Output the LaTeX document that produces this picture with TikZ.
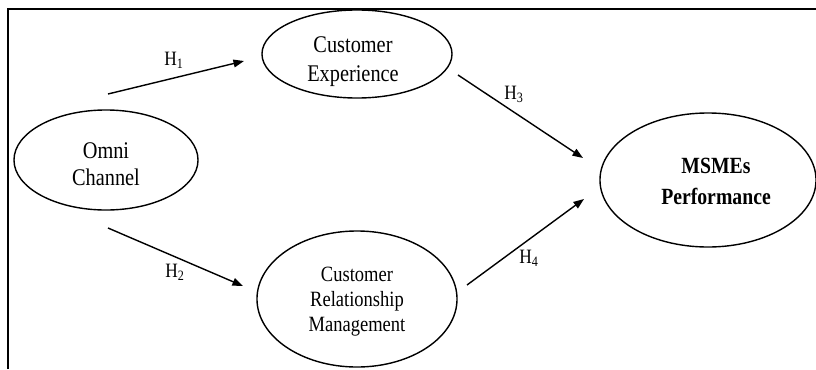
\documentclass[tikz,border=0pt]{standalone}
\usepackage{fontspec}
\setmainfont[FakeStretch=0.85]{Liberation Serif}
\usetikzlibrary{shapes.geometric,arrows.meta}

\begin{document}
\begin{tikzpicture}[x=0.025cm,y=-0.025cm,
    konstrukt/.style={draw,ellipse,line width=1pt,inner sep=0pt},
    beschr/.style={align=center,font=\fontsize{17}{19.5}\selectfont},
    pfeil/.style={-{Triangle[length=7.5pt,width=5.5pt]},line width=1pt},
    hyp/.style={font=\fontsize{14.5}{16}\selectfont}]
    \useasboundingbox (0,0) rectangle (816,369);

    % Rahmen (oben und links)
    \draw[line width=1.3pt] (8,369) -- (8,9) -- (816,9);

    % Ellipsen
    \node[konstrukt,minimum width=4.6cm,minimum height=2.5cm] (omni) at (106,160) {};
    \node[konstrukt,minimum width=4.75cm,minimum height=2.2cm] (ce) at (357,54) {};
    \node[konstrukt,minimum width=5cm,minimum height=3.4cm] (crm) at (357,299) {};
    \node[konstrukt,minimum width=5.4cm,minimum height=3.35cm] (perf) at (708,180) {};

    % Texte in den Ellipsen
    \node[beschr] (omni text) at (106,164) {Omni\\Channel};
    \node[beschr,font=\fontsize{17}{20.5}\selectfont] (ce text) at (353,62) {Customer\\Experience};
    \node[beschr,font=\fontsize{15.5}{17.7}\selectfont] (crm text) at (357,302) {Customer\\Relationship\\Management};
    \node[beschr,font=\bfseries\fontsize{16.5}{22}\selectfont] (perf text) at (716,181) {MSMEs\\Performance};

    % Pfeile (Anfang und Ende frei)
    \coordinate (h1a) at (108,94);
    \coordinate (h1b) at (244,61);
    \coordinate (h2a) at (108,228);
    \coordinate (h2b) at (243,286);
    \coordinate (h3a) at (458,75);
    \coordinate (h3b) at (583,158);
    \coordinate (h4a) at (467,285);
    \coordinate (h4b) at (584,199);
    \draw[pfeil] (h1a) -- (h1b);
    \draw[pfeil] (h2a) -- (h2b);
    \draw[pfeil] (h3a) -- (h3b);
    \draw[pfeil] (h4a) -- (h4b);

    % Hypothesen
    \node[hyp] (h1) at (174,60) {H\textsubscript{1}};
    \node[hyp] (h2) at (175,272) {H\textsubscript{2}};
    \node[hyp] (h3) at (514,94) {H\textsubscript{3}};
    \node[hyp] (h4) at (529,258) {H\textsubscript{4}};
\end{tikzpicture}
\end{document}
